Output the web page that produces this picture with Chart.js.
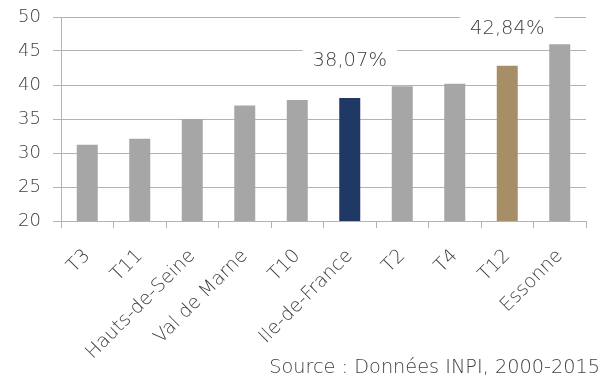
<!DOCTYPE html>
<html>
<head>
<meta charset="utf-8">
<script src="https://cdn.jsdelivr.net/npm/chart.js@4.4.1/dist/chart.umd.min.js"></script>
<style>
  html, body { margin: 0; padding: 0; background: #fff; }
  #wrap { width: 605px; height: 385px; }
</style>
</head>
<body>
<div id="wrap"><canvas id="chart"></canvas></div>
<script>
// bar chart of rates per territory, with two highlighted bars

var labels = ['T3', 'T11', 'Hauts-de-Seine', 'Val de Marne', 'T10', 'Ile-de-France', 'T2', 'T4', 'T12', 'Essonne'];
var values = [31.2, 32.1, 35.0, 37.0, 37.8, 38.07, 39.8, 40.2, 42.84, 46.0];
var barColors = ['#a6a6a6', '#a6a6a6', '#a6a6a6', '#a6a6a6', '#a6a6a6', '#1f3864', '#a6a6a6', '#a6a6a6', '#a68f66', '#a6a6a6'];
var labelledBars = [5, 8];   // bars that get a value label above them
var yTicks = { min: 20, max: 50, step: 5 };
var sourceText = 'Source : Données INPI, 2000-2015';

var FONT = 'DejaVu Sans';
var WEIGHT = 200;
var TEXT = '#404040';
var GRID = '#b3b3b3';

// white-boxed value labels above the highlighted bars + source line
var valueLabels = {
    id: 'valueLabels',
    afterDatasetsDraw: function(chart) {
        var ctx = chart.ctx;
        var meta = chart.getDatasetMeta(0);
        ctx.save();
        ctx.font = WEIGHT + ' 19.5px "' + FONT + '"';
        ctx.textAlign = 'center';
        ctx.textBaseline = 'middle';
        labelledBars.forEach(function(i) {
            var bar = meta.data[i];
            var txt = values[i].toLocaleString('fr-FR', { minimumFractionDigits: 2 }) + '%';
            var y = bar.y - 37;
            var w = ctx.measureText(txt).width + 20;
            ctx.fillStyle = '#fff';
            ctx.fillRect(bar.x - w / 2, y - 15, w, 30);
            ctx.fillStyle = TEXT;
            ctx.fillText(txt, bar.x, y);
        });
        ctx.restore();
    },
    afterDraw: function(chart) {
        var ctx = chart.ctx;
        ctx.save();
        ctx.font = WEIGHT + ' 19.3px "' + FONT + '"';
        ctx.fillStyle = TEXT;
        ctx.textAlign = 'right';
        ctx.textBaseline = 'middle';
        ctx.fillText(sourceText, 600, 368);
        ctx.restore();
    }
};

new Chart(document.getElementById('chart'), {
    type: 'bar',
    data: {
        labels: labels,
        datasets: [{
            data: values,
            backgroundColor: barColors,
            barPercentage: 0.4,
            categoryPercentage: 1
        }]
    },
    options: {
        responsive: true,
        maintainAspectRatio: false,
        animation: false,
        layout: { padding: { top: 17, right: 19, bottom: 4, left: 0 } },
        plugins: {
            legend: { display: false },
            tooltip: { enabled: false }
        },
        scales: {
            x: {
                grid: {
                    offset: true,
                    drawOnChartArea: false,
                    drawTicks: true,
                    tickLength: 7,
                    color: GRID
                },
                border: { display: true, color: GRID },
                ticks: {
                    minRotation: 45,
                    maxRotation: 45,
                    autoSkip: false,
                    padding: 17,
                    color: TEXT,
                    font: { family: FONT, size: 19, weight: WEIGHT }
                },
                afterFit: function(scale) { scale.height = 160; }
            },
            y: {
                min: yTicks.min,
                max: yTicks.max,
                grid: {
                    color: GRID,
                    tickLength: 8
                },
                border: { display: true, color: GRID },
                ticks: {
                    stepSize: yTicks.step,
                    padding: 12,
                    color: TEXT,
                    font: { family: FONT, size: 18, weight: WEIGHT }
                },
                afterFit: function(scale) {
                    scale.width = 61;
                    // keep the plot top fixed by the layout padding only
                    scale.paddingTop = 0;
                    scale.paddingBottom = 0;
                }
            }
        }
    },
    plugins: [valueLabels]
});
</script>
</body>
</html>
